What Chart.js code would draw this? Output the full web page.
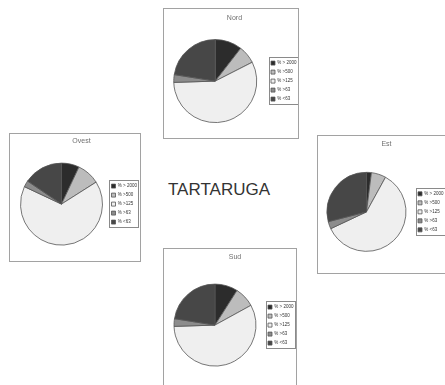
<!DOCTYPE html>
<html><head><meta charset="utf-8">
<script src="https://cdn.jsdelivr.net/npm/chart.js@4/dist/chart.umd.min.js"></script>
<style>
html,body{margin:0;padding:0;background:#fff;overflow:hidden;width:445px;height:385px;}
.panel{position:absolute;box-sizing:border-box;border:1px solid #a2a2a2;background:#fff;}
.panel canvas{position:absolute;left:0;top:0;}
#main{position:absolute;left:168px;top:181px;font:17px/17px "Liberation Sans",Arial,sans-serif;color:#333;white-space:nowrap;}
</style></head><body>
<div id="main">TARTARUGA</div>
<script>
// ---- data ----
const categories = ['% > 2000', '% >500', '% >125', '% >63', '% <63'];
const panelTitles = ['Nord', 'Ovest', 'Est', 'Sud'];
const nordValues  = [10.5, 7, 57, 3, 22.5];
const ovestValues = [7, 9, 66, 2.5, 15.5];
const estValues   = [2, 6, 60, 3, 29];
const sudValues   = [9, 8, 57.5, 3, 22.5];
const sliceColors = ['#2c2c2c', '#bcbcbc', '#efefef', '#8c8c8c', '#474747'];

// ---- layout (page pixels) ----
const panelLayout = [
  {x:163, y:8,   w:136, h:131, cx:214.5, cy:82.5, r:41.5, titleY:18,  itemX:271},
  {x:9,   y:133, w:132, h:129, cx:61.5,  cy:205,  r:41,   titleY:141, itemX:111.5},
  {x:317, y:135, w:132, h:139, cx:366.5, cy:213,  r:39.5, titleY:144.5, itemX:418},
  {x:163, y:248, w:134, h:140, cx:215,   cy:326,  r:41,   titleY:257, itemX:268}
];
const panelValues = [nordValues, ovestValues, estValues, sudValues];

const legendBorder = {
  id: 'legendBorder',
  afterDraw(chart) {
    const boxes = chart.legend && chart.legend.legendHitBoxes;
    if (!boxes || !boxes.length) return;
    let l = Infinity, t = Infinity, r = -Infinity, b = -Infinity;
    boxes.forEach(h => { l = Math.min(l, h.left); t = Math.min(t, h.top); r = Math.max(r, h.left + h.width); b = Math.max(b, h.top + h.height); });
    const ctx = chart.ctx;
    ctx.save();
    ctx.strokeStyle = '#8a8a8a';
    ctx.lineWidth = 1;
    ctx.strokeRect(Math.round(l - 2.5) + 0.5, Math.round(t - 3.5) + 0.5, Math.round(r - l + 4), Math.round(b - t + 7));
    ctx.restore();
  }
};

panelLayout.forEach((p, i) => {
  const div = document.createElement('div');
  div.className = 'panel';
  div.style.left = p.x + 'px'; div.style.top = p.y + 'px';
  div.style.width = p.w + 'px'; div.style.height = p.h + 'px';
  const cv = document.createElement('canvas');
  const W = p.w - 2, H = p.h - 2;
  cv.width = W; cv.height = H;
  cv.style.width = W + 'px'; cv.style.height = H + 'px';
  div.appendChild(cv);
  document.body.appendChild(div);
  const ox = p.x + 1, oy = p.y + 1;
  const titleFont = 7;
  const lp = 4.5;
  const chart = new Chart(cv, {
    type: 'pie',
    data: {
      labels: categories,
      datasets: [{
        data: panelValues[i],
        backgroundColor: sliceColors,
        borderColor: '#555',
        borderWidth: 0.8,
        radius: p.r
      }]
    },
    options: {
      responsive: false,
      animation: false,
      events: [],
      layout: {padding: {left: 0, right: 0, top: 0, bottom: 0}},
      plugins: {
        tooltip: {enabled: false},
        title: {
          display: true,
          text: panelTitles[i],
          color: '#707070',
          font: {family: 'Liberation Sans', size: titleFont, weight: 'normal', lineHeight: 1.2},
          padding: {top: (p.titleY - oy) - titleFont * 0.6, bottom: 2}
        },
        legend: {
          position: 'right',
          fullSize: false,
          align: 'center',
          labels: {
            color: '#333',
            boxWidth: 4,
            boxHeight: 4,
            padding: lp,
            font: {family: 'Liberation Sans', size: 4.5}
          }
        }
      }
    },
    plugins: [legendBorder]
  });
  const lw = chart.legend.width;
  const tb = chart.titleBlock.bottom;
  const legendLeft = (p.itemX - ox) - lp;
  const pr = W - legendLeft - lw;
  const pl = 2 * (p.cx - ox) - legendLeft;
  const pb = tb + H - 2 * (p.cy - oy);
  chart.options.layout.padding = {left: pl, right: pr, top: 0, bottom: pb};
  chart.update('none');
});
</script>
</body></html>
